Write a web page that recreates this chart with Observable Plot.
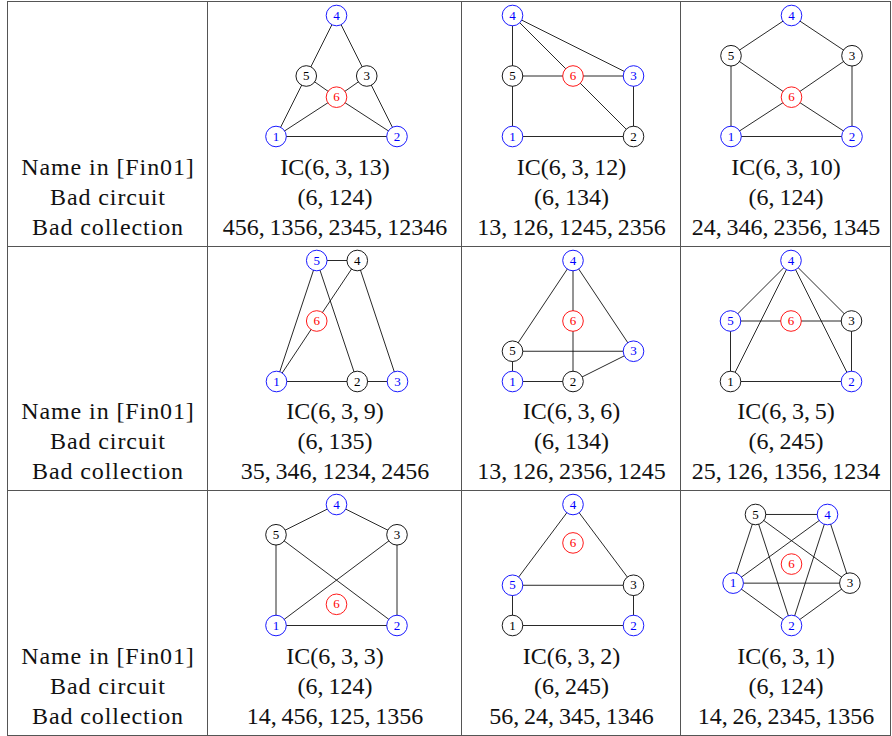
<!DOCTYPE html>
<html><head><meta charset="utf-8">
<script src="https://cdn.jsdelivr.net/npm/d3@7"></script>
<script src="https://cdn.jsdelivr.net/npm/@observablehq/plot@0.6"></script>
<style>
body{margin:0;background:#fff;}
#grid{position:absolute;left:7px;top:1px;display:grid;grid-template-columns:199px 253px 218px 209px;grid-template-rows:244px 243px 244px;gap:1px;background:#555;border:1px solid #555;}
.cell{background:#fff;position:relative;overflow:hidden;}
.cell svg{display:block;}
</style></head><body><div id="grid"></div>
<script>
// ---- table texts ----
const rowLabels = ["Name in [Fin01]", "Bad circuit", "Bad collection"];
const names = ["IC(6,\u20093,\u200913)", "IC(6,\u20093,\u200912)", "IC(6,\u20093,\u200910)",
               "IC(6,\u20093,\u20099)", "IC(6,\u20093,\u20096)", "IC(6,\u20093,\u20095)",
               "IC(6,\u20093,\u20093)", "IC(6,\u20093,\u20092)", "IC(6,\u20093,\u20091)"];
const badCircuits = ["(6,\u2009124)", "(6,\u2009134)", "(6,\u2009124)",
                     "(6,\u2009135)", "(6,\u2009134)", "(6,\u2009245)",
                     "(6,\u2009124)", "(6,\u2009245)", "(6,\u2009124)"];
const badCollections = ["456, 1356, 2345, 12346", "13, 126, 1245, 2356", "24, 346, 2356, 1345",
                        "35, 346, 1234, 2456", "13, 126, 2356, 1245", "25, 126, 1356, 1234",
                        "14, 456, 125, 1356", "56, 24, 345, 1346", "14, 26, 2345, 1356"]
                        .map(s => s.replace(/, /g, ",\u2009"));

// ---- graph layouts (TikZ-like units), nodes 1..6 ----
const nodeIds = [1, 2, 3, 4, 5, 6];
const nodeX = [
  [-2, 2, 1, 0, -1, 0],
  [0, 4, 4, 0, 0, 2],
  [-2, 2, 2, 0, -2, 0],
  [0, 2.67, 4, 2.67, 1.33, 1.33],
  [0, 2, 4, 2, 0, 2],
  [0, 4, 4, 2, 0, 2],
  [-2, 2, 2, 0, -2, 0],
  [0, 4, 4, 2, 0, 2],
  [-1.93, 0, 1.93, 1.19, -1.19, 0]
];
const nodeY = [
  [0, 0, 2, 4, 2, 1.3],
  [0, 0, 2, 4, 2, 2],
  [0, 0, 2.67, 4, 2.67, 1.3],
  [0, 0, 0, 4, 4, 2],
  [0, 0, 1, 4, 1, 2],
  [0, 0, 2, 4, 2, 2],
  [0, 0, 3, 4, 3, 0.7],
  [0, 0, 1.33, 4, 1.33, 2.73],
  [1.4, 0, 1.4, 3.67, 3.67, 2.03]
];
const blueNodes = [[1,2,4],[1,3,4],[1,2,4],[1,3,5],[1,3,4],[2,4,5],[1,2,4],[2,4,5],[1,2,4]];
const redNode = 6;
const edgeLists = [
  ["45","34","15","23","56","36","16","26","12"],
  ["45","46","34","56","36","15","26","23","12"],
  ["45","34","56","36","15","23","16","26","12"],
  ["45","15","25","46","16","34","12","23"],
  ["45","34","46","26","35","15","12","23"],
  ["45","14","24","34","56","36","15","23","12"],
  ["45","34","15","23","25","13","12"],
  ["45","34","35","15","23","12"],
  ["12","13","14","15","23","24","25","34","35","45"]
];

// ---- layout constants ----
const colW = [199, 253, 218, 209];
const rowH = [244, 243, 244];
const unit = 30.25;                 // px per layout unit
const xOrigin = [128, 50, 110, 68, 50, 49, 128, 50, 110]; // px of layout x=0 inside cell
const FONT = "'Liberation Serif', 'Times New Roman', serif";

const grid = document.getElementById("grid");

function textLines(lines) {
  return Plot.text([lines.join("\n")], {
    frameAnchor: "bottom", text: d => d, lineAnchor: "bottom",
    lineHeight: 1.23, fontSize: 24, fontFamily: FONT, fill: "#111", dy: -12
  });
}

for (let r = 0; r < 3; r++) {
  // label column
  const lc = document.createElement("div"); lc.className = "cell";
  const lp = Plot.plot({
    width: colW[0], height: rowH[r], margin: 0,
    marks: [textLines(rowLabels)]
  });
  lp.style.letterSpacing = "0.9px";
  lc.appendChild(lp); grid.appendChild(lc);

  for (let c = 0; c < 3; c++) {
    const k = r * 3 + c;
    const w = colW[c + 1], h = rowH[r];
    const nodes = nodeIds.map((id, i) => ({
      id, x: nodeX[k][i], y: nodeY[k][i],
      kind: id === redNode ? "red" : blueNodes[k].includes(id) ? "blue" : "plain"
    }));
    const byId = new Map(nodes.map(n => [n.id, n]));
    const edges = edgeLists[k].map(e => ({a: byId.get(+e[0]), b: byId.get(+e[1])}));
    const cell = document.createElement("div"); cell.className = "cell";
    const p = Plot.plot({
      width: w, height: h, margin: 0,
      x: {domain: [-xOrigin[k] / unit, (w - xOrigin[k]) / unit], range: [0, w], axis: null},
      y: {domain: [0, 4], range: [134, 13], axis: null},
      color: {type: "ordinal", domain: ["plain", "blue", "red"], range: ["#000000", "#0000ff", "#ff0000"]},
      marks: [
        Plot.link(edges, {x1: d => d.a.x, y1: d => d.a.y, x2: d => d.b.x, y2: d => d.b.y,
                          stroke: "#111", strokeWidth: 0.9}),
        Plot.dot(nodes, {x: "x", y: "y", r: 10.3, fill: "white", stroke: "kind", strokeWidth: 0.9}),
        Plot.text(nodes, {x: "x", y: "y", text: "id", fill: "kind", fontSize: 13, fontFamily: FONT}),
        textLines([names[k], badCircuits[k], badCollections[k]])
      ]
    });
    cell.appendChild(p); grid.appendChild(cell);
  }
}
</script></body></html>
